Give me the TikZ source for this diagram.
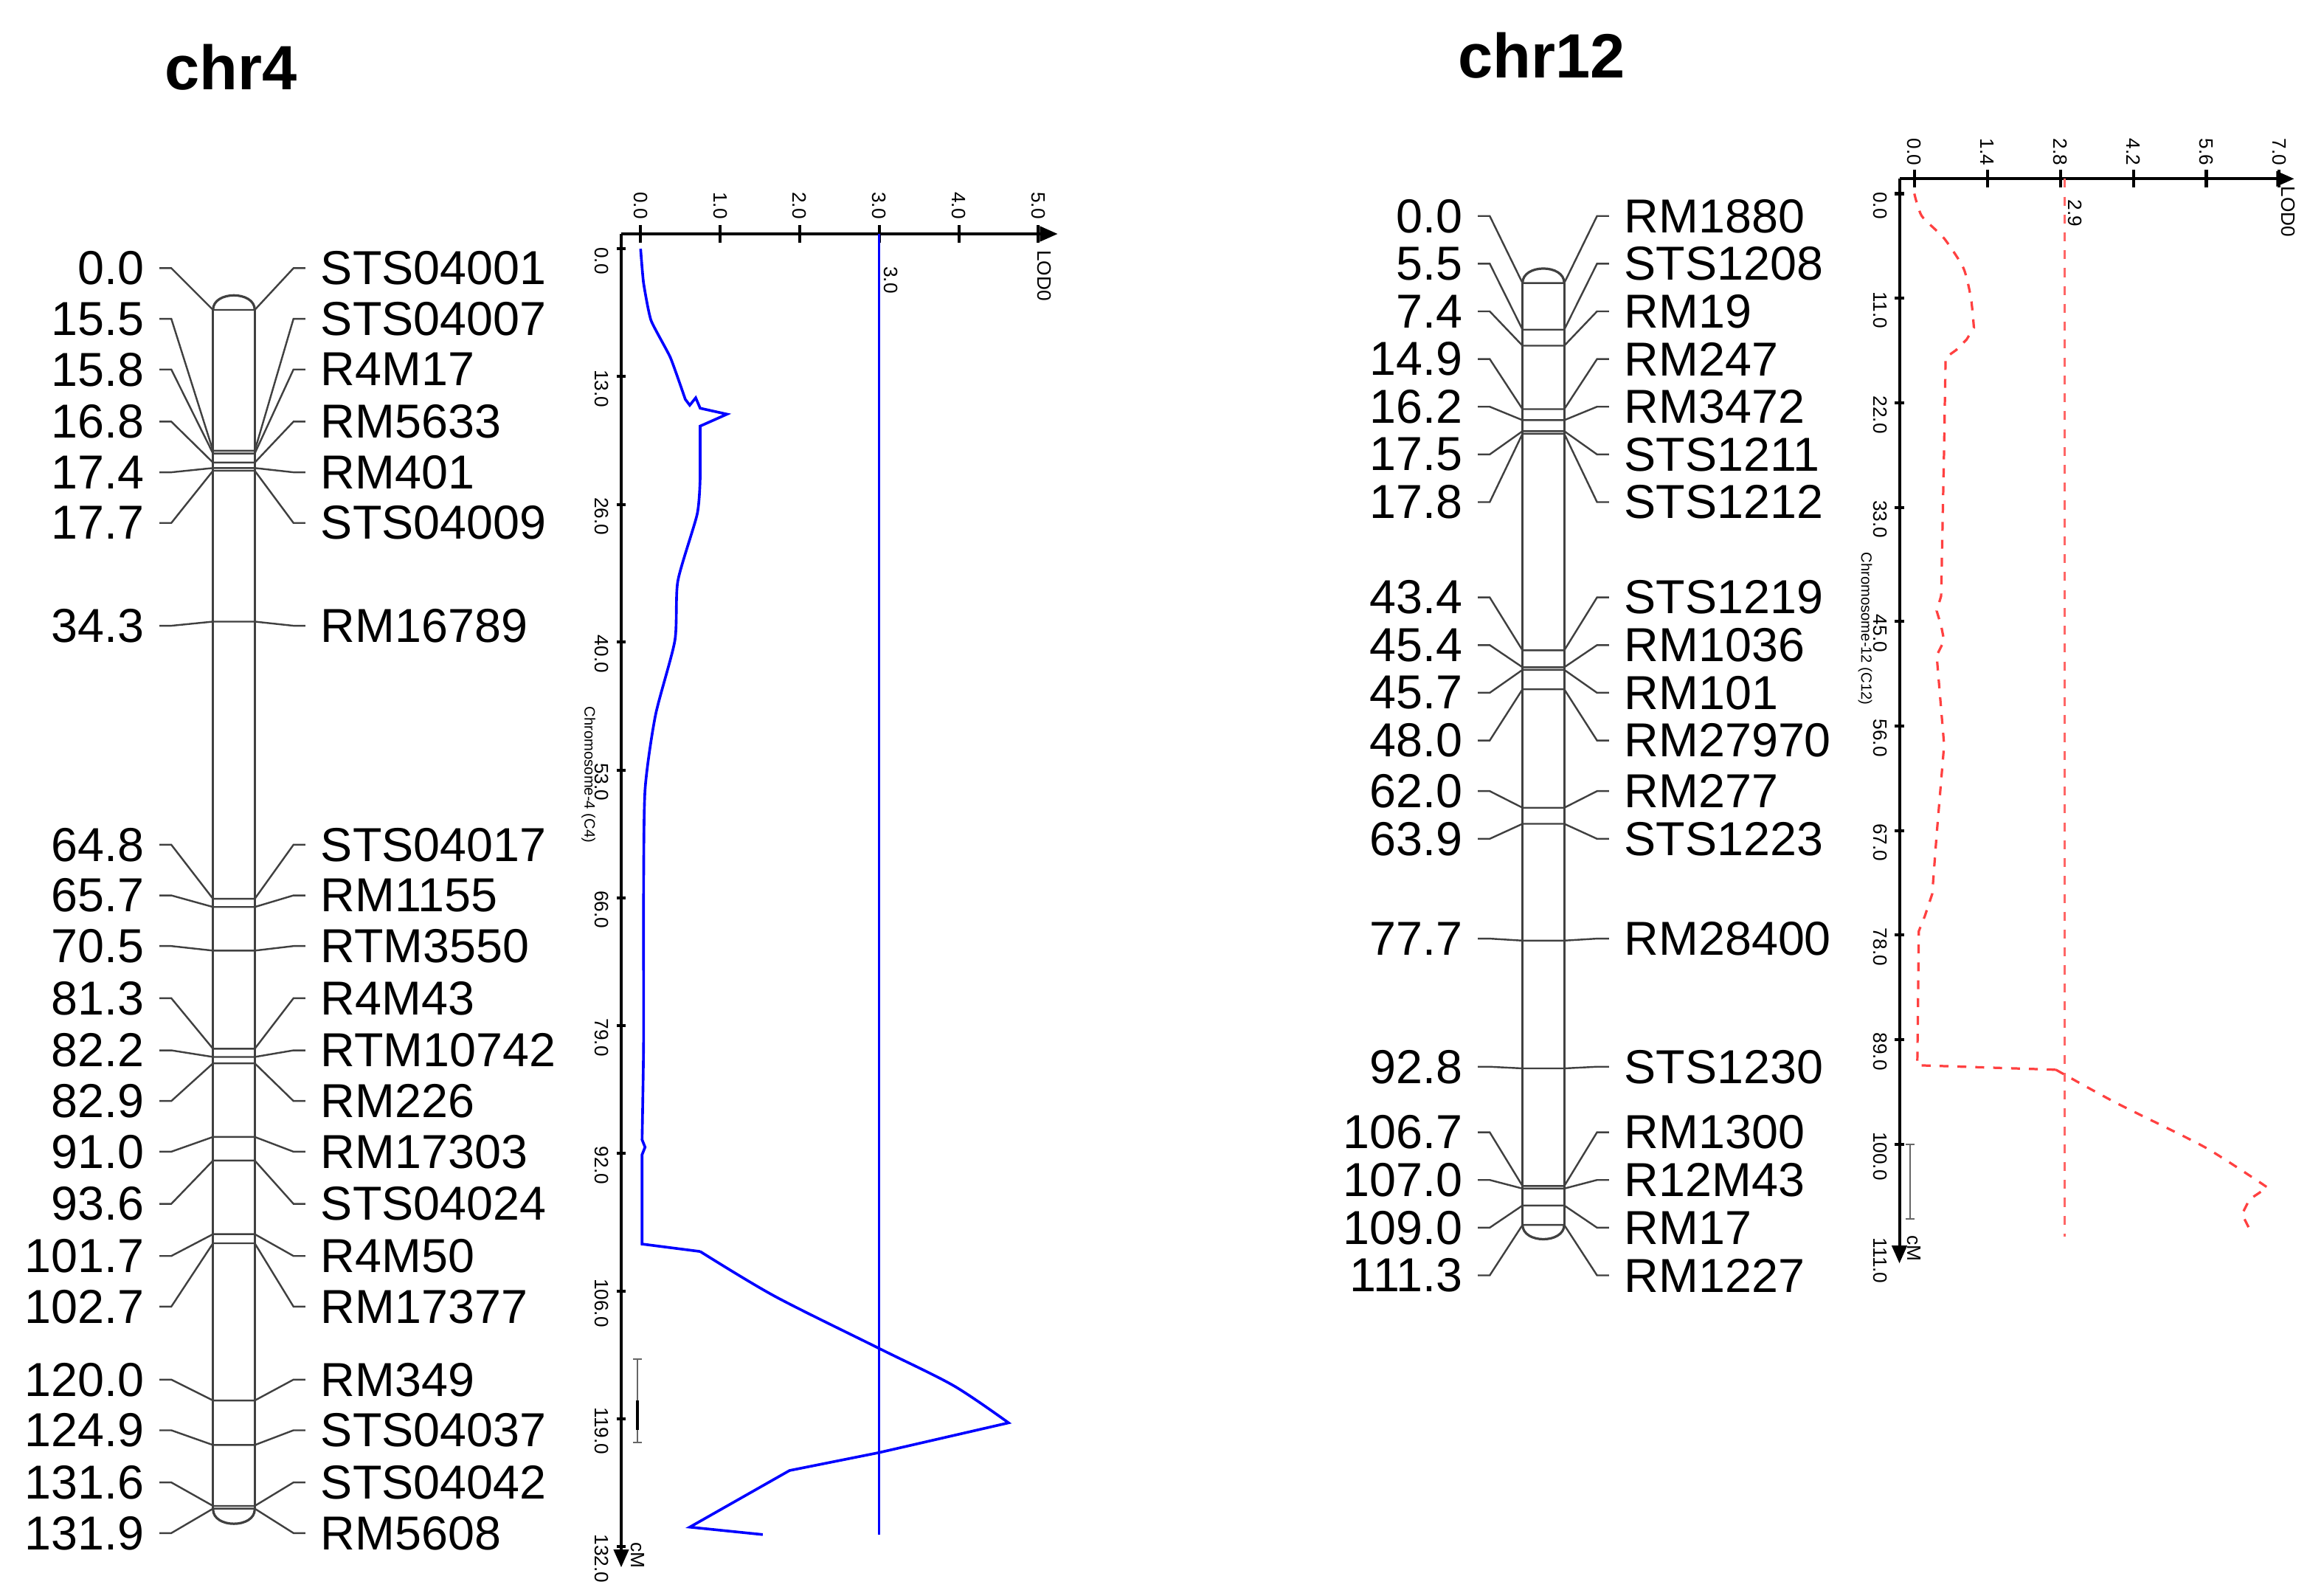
\documentclass[tikz,border=0pt]{standalone}
\usepackage{fontspec}
\setmainfont{Liberation Sans}
\usetikzlibrary{arrows.meta}
\begin{document}
\begin{tikzpicture}[x=0.5pt,y=-0.5pt,
  lab/.style={font=\fontsize{16}{18}\selectfont,inner sep=0pt},
  ttl/.style={font=\fontsize{21}{24}\bfseries\selectfont,inner sep=0pt},
  tck/.style={font=\fontsize{6.5}{7}\selectfont,inner sep=0pt,rotate=-90},
  conn/.style={draw=black!75,line width=0.6pt},
  bar/.style={draw=black!75,line width=0.8pt},
  axis/.style={draw=black,line width=1pt}]
\useasboundingbox (0,0) rectangle (1560,1069);
\fill[white] (0,0) rectangle (1560,1069);
% ---------- chr4 ----------
\node[ttl] (t4) at (155,45) {chr4};
\draw[bar] (143,208) .. controls (143,195) and (171,195) .. (171,208);
\draw[bar] (143,1013) .. controls (143,1026) and (171,1026) .. (171,1013);
\draw[bar] (143,208) -- (143,1013) (171,208) -- (171,1013);
\foreach \n/\m/\yl/\c [count=\i] in {0.0/STS04001/180/0.0,15.5/STS04007/214/15.5,15.8/R4M17/248/15.8,16.8/RM5633/283/16.8,17.4/RM401/317/17.4,17.7/STS04009/351/17.7,34.3/RM16789/420/34.3,64.8/STS04017/567/64.8,65.7/RM1155/601/65.7,70.5/RTM3550/635/70.5,81.3/R4M43/670/81.3,82.2/RTM10742/705/82.2,82.9/RM226/739/82.9,91.0/RM17303/773/91.0,93.6/STS04024/808/93.6,101.7/R4M50/843/101.7,102.7/RM17377/877/102.7,120.0/RM349/926/120.0,124.9/STS04037/960/124.9,131.6/STS04042/995/131.6,131.9/RM5608/1029/131.9}{
  \pgfmathsetmacro\ym{208+6.1*\c}
  \node[lab,anchor=east] (a\i) at (97,\yl) {\n};
  \node[lab,anchor=west] (b\i) at (215,\yl) {\m};
  \draw[conn] ([xshift=5pt]a\i.east) -- ([xshift=9pt]a\i.east) -- (143,\ym) -- (171,\ym) -- ([xshift=-9pt]b\i.west) -- ([xshift=-5pt]b\i.west);
}
% chr4 LOD plot
\draw[axis,-{Triangle[length=6pt,width=5pt]}] (417,157) -- (710,157);
\draw[axis,-{Triangle[length=6pt,width=5pt]}] (417,157) -- (417,1052);
\foreach \v [count=\k from 0] in {0.0,1.0,2.0,3.0,4.0,5.0}{
  \pgfmathsetmacro\xx{430+53.4*\k}
  \draw[axis] (\xx,151) -- (\xx,163);
  \node[tck] (h\k) at (\xx,138) {\v};
}
\foreach \v in {0.0,13.0,26.0,40.0,53.0,66.0,79.0,92.0,106.0,119.0,132.0}{
  \pgfmathsetmacro\yy{167+6.6*\v}
  \draw[axis] (414,\yy) -- (420,\yy);
  \node[tck] (v\v) at (404,\yy+8) {\v};
}
\node[tck] (lod4) at (701,185) {LOD0};
\node[tck] (cm4) at (428,1044) {cM};
\node[tck,font=\fontsize{5}{6}\selectfont] (c4) at (395,520) {Chromosome-4 (C4)};
\draw[black!60,line width=0.5pt] (428,912) -- (428,968) (425,912) -- (431,912) (425,968) -- (431,968);
\draw[black,line width=1pt] (428,940) -- (428,960);
\draw[blue,line width=0.7pt] (590,157) -- (590,1030);
\node[tck] (thr4) at (598,188) {3.0};
\draw[blue,line width=0.9pt] plot[smooth,tension=0.3] coordinates {(430,167) (432,190) (437,215) (450,240) (460,268)} -- (463,272) -- (467,267) -- (470,274) -- (488,278) -- (470,286) -- (470,320) plot[smooth,tension=0.4] coordinates {(470,320) (468,345) (455,390) (453,430) (440,480) (433,530) (432,600) (432,700) (431,765)} -- (433,770) -- (431,775) -- (431,835) -- (470,840) plot[smooth,tension=0.5] coordinates {(470,840) (520,870) (590,905) (640,930) (677,955)} -- (590,975) -- (530,987) -- (463,1025) -- (512,1030);
% ---------- chr12 ----------
\node[ttl] (t12) at (1035,37) {chr12};
\draw[bar] (1022,190) .. controls (1022,177) and (1050,177) .. (1050,190);
\draw[bar] (1022,822) .. controls (1022,835) and (1050,835) .. (1050,822);
\draw[bar] (1022,190) -- (1022,822) (1050,190) -- (1050,822);
\foreach \n/\m/\yl/\c [count=\i] in {0.0/RM1880/145/0.0,5.5/STS1208/177/5.5,7.4/RM19/209/7.4,14.9/RM247/241/14.9,16.2/RM3472/273/16.2,17.5/STS1211/305/17.5,17.8/STS1212/337/17.8,43.4/STS1219/401/43.4,45.4/RM1036/433/45.4,45.7/RM101/465/45.7,48.0/RM27970/497/48.0,62.0/RM277/531/62.0,63.9/STS1223/563/63.9,77.7/RM28400/630/77.7,92.8/STS1230/716/92.8,106.7/RM1300/760/106.7,107.0/R12M43/792/107.0,109.0/RM17/824/109.0,111.3/RM1227/856/111.3}{
  \pgfmathsetmacro\ym{190+5.68*\c}
  \node[lab,anchor=east] (c\i) at (982,\yl) {\n};
  \node[lab,anchor=west] (d\i) at (1090,\yl) {\m};
  \draw[conn] ([xshift=5pt]c\i.east) -- ([xshift=9pt]c\i.east) -- (1022,\ym) -- (1050,\ym) -- ([xshift=-9pt]d\i.west) -- ([xshift=-5pt]d\i.west);
}
% chr12 LOD plot
\draw[axis,-{Triangle[length=6pt,width=5pt]}] (1275,120) -- (1540,120);
\draw[axis,-{Triangle[length=6pt,width=5pt]}] (1275,120) -- (1275,848);
\foreach \v [count=\k from 0] in {0.0,1.4,2.8,4.2,5.6,7.0}{
  \pgfmathsetmacro\xx{1285+49*\k}
  \draw[axis] (\xx,114) -- (\xx,126);
  \node[tck] (p\k) at (\xx,102) {\v};
}
\foreach \v in {0.0,11.0,22.0,33.0,45.0,56.0,67.0,78.0,89.0,100.0,111.0}{
  \pgfmathsetmacro\yy{130+6.38*\v}
  \draw[axis] (1272,\yy) -- (1278,\yy);
  \node[tck] (q\v) at (1262,\yy+8) {\v};
}
\node[tck] (lod12) at (1536,142) {LOD0};
\node[tck] (cm12) at (1285,838) {cM};
\node[tck,font=\fontsize{5}{6}\selectfont] (c12) at (1252,422) {Chromosome-12 (C12)};
\draw[black!60,line width=0.5pt] (1282,768) -- (1282,818) (1279,768) -- (1285,768) (1279,818) -- (1285,818);
\draw[red!60,dashed,line width=0.7pt] (1386,120) -- (1386,830);
\node[tck] (thr12) at (1393,143) {2.9};
\draw[red!75,dashed,line width=0.8pt] plot[smooth,tension=0.4] coordinates {(1285,130) (1290,145) (1305,160) (1318,180) (1323,200) (1325,220)} -- (1320,228) -- (1313,235) -- (1306,240) -- (1305,300) -- (1303,400) -- (1300,410) -- (1303,420) -- (1305,430) -- (1300,440) -- (1305,500) -- (1300,560) -- (1297,600) -- (1292,615) -- (1288,625) -- (1287,715) -- (1380,718) plot[smooth,tension=0.4] coordinates {(1380,718) (1420,740) (1480,770) (1522,797)} -- (1510,805) -- (1505,815) -- (1510,825);
\end{tikzpicture}
\end{document}
